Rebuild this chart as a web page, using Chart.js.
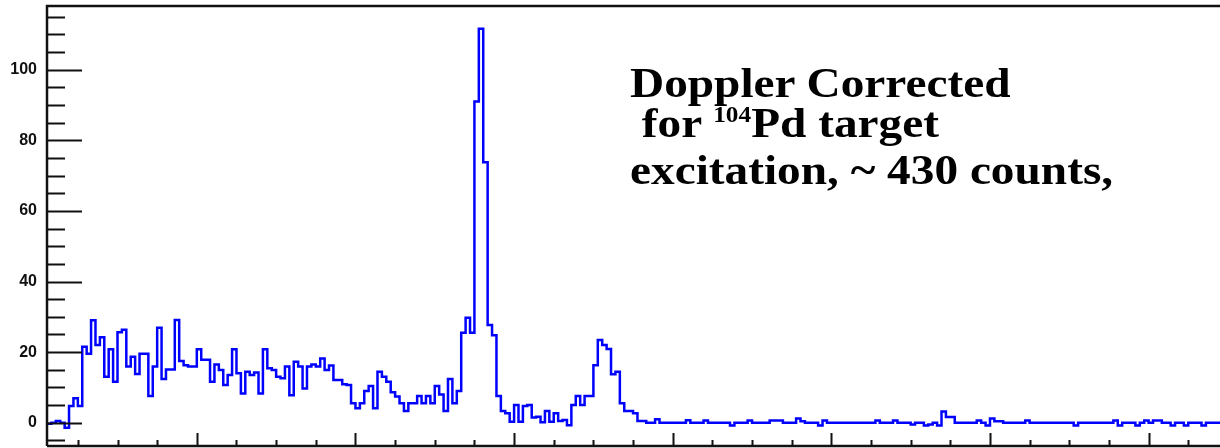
<!DOCTYPE html>
<html>
<head>
<meta charset="utf-8">
<script src="https://cdn.jsdelivr.net/npm/chart.js@4.4.1/dist/chart.umd.min.js"></script>
<style>
  html, body { margin: 0; padding: 0; background: #fff; }
  #wrap { position: relative; width: 1220px; height: 448px; overflow: hidden; }
  #spectrum { display: block; }
  #note {
    position: absolute; left: 630px; top: 63px;
    font: bold 43px "Liberation Serif", "Times New Roman", serif;
    line-height: 40px; color: #000; white-space: pre;
    transform: scaleX(1.1); transform-origin: 0 0;
  }
  #note sup { font-size: 23px; position: relative; top: -15px; vertical-align: baseline; }
</style>
</head>
<body>
<div id="wrap">
  <canvas id="spectrum" width="1220" height="448"></canvas>
  <div id="note">Doppler Corrected
 for <sup>104</sup>Pd target
excitation, ~ 430 counts,</div>
</div>
<script>
// Histograma (contenido por canal)
const firstBin = 2;      // borde izquierdo del primer canal
const binWidth = 1;

const bgCounts = [
  -0.3, 0, 0.5, 0, -1.4, 4.7, 6.9, 4.7, 21.5, 19.5,
  29, 22, 24.2, 13, 20.8, 11.6, 25.6, 26.3, 15.9, 18.7,
  13.8, 19.5, 19.5, 7.6, 15.9, 26.9, 12.4, 15.1, 15.1, 29.1,
  17.5, 16.3, 15.9, 15.9, 20.8, 17.8, 17.8, 11.6, 16.5, 14.9,
  10.7, 13.5, 20.8, 14, 8.3, 14.4, 13.5, 14.2, 8.3, 20.8,
  15.4, 14.9, 13, 12.6, 15.9, 7.8, 17.3, 15.9, 9.7, 15.9,
  16.5, 15.9, 18.2, 14.9, 16.2, 12.1, 12.1, 10.9, 10.7, 5.5,
  4.1, 5.5, 9, 10.4, 4.1, 14.4, 13, 11.6, 8.6, 7.4,
  5.5, 3.3, 5.5, 5.5, 7.6, 5.5, 7.6, 5.5, 10.4, 8,
  3.3, 12.4, 5.5, 9
];

const peakCounts = [
  25.5, 29.7, 25.5, 91, 111.6, 73.8, 27.7, 24.8, 7.6, 3.3,
  2.7, 0.3, 5, 0.3, 4.7, 5, 1.5, 1.7, 0.1, 3.3,
  0.3, 2.7, 0.5, 0.8, -0.7, 5, 7.6, 5, 7.6, 7.6,
  16.3, 23.4, 22, 20.9, 13.7, 14.4, 5.5, 3.3, 3.3, 2.7, 0.5
];

const tailCounts = [
  0.5, 0, 0, 1, 0, 0, 0, 0, 0, 0, 0.7, 0,
  0, 0, 0.6, 0, 0, 0, 0, 0, -0.8, 0, 0, 0,
  0.6, 0, 0, 0, 0, 0.6, 0.6, 0.6, 0, 0, 0, 1.2,
  0.4, 0, 0, 0, -0.8, 0.6, 0, 0, 0, 0, 0, 0,
  0, 0, 0, 0, 0, 0.6, 0, 0, 0, 0.6, 0, 0,
  0, -0.5, 0, 0, -0.8, -0.5, 0, -0.8, 3.2, 1.6, 1.6, 0,
  0, 0, 0, 0, 0.6, 0, -0.8, 1.2, 0.4, 0.4, 0, 0,
  0, 0, 0, 0.6, 0, 0, 0, 0, 0, 0, 0, 0,
  0, 0, -0.8, 0, 0, 0, 0, 0, 0, 0, 0, 0.6,
  -0.8, 0, 0, 0, -0.8, 0, 0.6, 0, 0.6, 0.6, 0, 0,
  -0.8, 0, 0, -0.8, 0, 0, 0, -0.8, 0, 0, 0, 0
];

const yTickLabels = [0, 20, 40, 60, 80, 100];

const counts = bgCounts.concat(peakCounts, tailCounts);
const points = counts.map((v, i) => ({ x: firstBin + i * binWidth, y: v }));
points.push({ x: firstBin + counts.length * binWidth, y: counts[counts.length - 1] });

// Marco y marcas hacia dentro, estilo ROOT
const frameTicks = {
  id: 'frameTicks',
  afterDatasetsDraw(chart) {
    const { ctx, chartArea: a, scales: { x, y } } = chart;
    ctx.save();
    ctx.strokeStyle = '#111';
    ctx.lineWidth = 2;

    ctx.beginPath();
    for (let v = -5; v <= 115; v += 5) {
      const py = Math.round(y.getPixelForValue(v)) + 0.5;
      const len = (v % 20 === 0 && v >= 0) ? 35 : 18;
      ctx.moveTo(a.left, py);
      ctx.lineTo(a.left + len, py);
    }
    for (let v = 9; v <= x.max; v += 9) {
      const px = Math.round(x.getPixelForValue(v)) + 0.5;
      const len = v % 36 === 0 ? 13 : 6;
      ctx.moveTo(px, a.bottom);
      ctx.lineTo(px, a.bottom - len);
    }
    ctx.stroke();

    ctx.lineWidth = 2.5;
    ctx.beginPath();
    ctx.moveTo(a.left, a.bottom);
    ctx.lineTo(a.left, a.top);
    ctx.lineTo(a.right, a.top);
    ctx.moveTo(a.left, a.bottom);
    ctx.lineTo(a.right, a.bottom);
    ctx.stroke();
    ctx.restore();
  }
};

document.addEventListener('DOMContentLoaded', function() {
  new Chart(document.getElementById('spectrum').getContext('2d'), {
    type: 'line',
    data: {
      datasets: [{
        data: points,
        stepped: 'before',
        borderColor: '#0000ff',
        borderWidth: 2.5,
        pointRadius: 0,
        fill: false
      }]
    },
    options: {
      responsive: false,
      animation: false,
      devicePixelRatio: 1,
      layout: { padding: { top: 6, bottom: 2, left: 0, right: 0 } },
      plugins: {
        legend: { display: false },
        tooltip: { enabled: false }
      },
      scales: {
        x: {
          type: 'linear',
          min: 2,
          max: 268.2,
          display: false
        },
        y: {
          min: -6.6,
          max: 118.05,
          grid: { display: false, drawTicks: false },
          border: { display: false },
          afterBuildTicks: function(scale) {
            scale.ticks = yTickLabels.map(v => ({ value: v }));
          },
          afterFit: function(scale) {
            scale.width = 47;
            scale.paddingTop = 0;
            scale.paddingBottom = 0;
          },
          ticks: {
            padding: 10,
            color: '#111',
            font: { family: '"Liberation Sans", Arial, sans-serif', weight: 'bold', size: 16 },
            callback: function(value) {
              return value;
            }
          }
        }
      }
    },
    plugins: [frameTicks]
  });
});
</script>
</body>
</html>
